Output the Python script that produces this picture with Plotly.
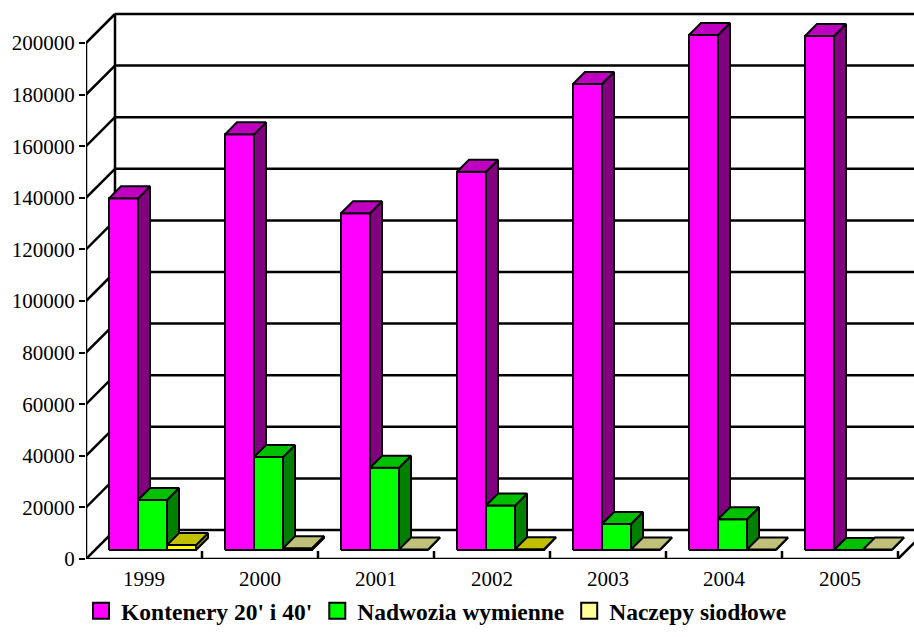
import plotly.graph_objects as go

# ---------------- data ----------------
years = ['1999', '2000', '2001', '2002', '2003', '2004', '2005']
kontenery = [136300, 161100, 130500, 146600, 180600, 199600, 199200]
nadwozia = [19400, 36000, 31900, 17200, 10100, 11900, 0]
naczepy = [1900, 700, 200, 300, 200, 200, 200]
series_names = ["Kontenery 20' i 40'", "Nadwozia wymienne", "Naczepy siodłowe"]
y_tick_values = [0, 20000, 40000, 60000, 80000, 100000, 120000, 140000, 160000, 180000, 200000]

# ---------------- styles ----------------
pink = ('#ff00ff', '#c000c0', '#800080')
green = ('#00ff00', '#00c000', '#008000')
yellow = ('#ffff00', '#c0c000', '#808000')
light = ('#ffff99', '#c0c07a', '#80805a')
series_colors = [
    [pink] * 7,
    [green] * 7,
    [yellow, light, light, yellow, light, light, light],
]
legend_colors = ['#ff00ff', '#00ff00', '#ffff99']
FONT = 'Times New Roman, Liberation Serif, serif'

W, H = 914, 637
ML, MR, MT, MB = 86, 0, 0, 78
PX_CAT = 116.0                 # px per category
PX_VAL = 516.0 / 200000.0      # px per unit value
plot_w = W - ML - MR
plot_h = H - MT - MB


def dx(px):
    return px / PX_CAT


def dy(px):
    return px / PX_VAL


DEPTH = 29       # wall depth in px
BAR_OFF = 9      # bar front depth offset in px
BAR_DEPTH = 12   # bar depth in px
BAR_W = 29       # bar width in px
BAR_START = 23   # offset of first bar in category in px

fig = go.Figure()

# ---------------- frame / walls ----------------
ncat = len(years)
lx, ly = [], []
for v in y_tick_values:
    lx += [dx(DEPTH), ncat + dx(DEPTH) + 1, None]
    ly += [v + dy(DEPTH), v + dy(DEPTH), None]
    lx += [0, dx(DEPTH), None]
    ly += [v, v + dy(DEPTH), None]
lx += [dx(DEPTH), dx(DEPTH), None]
ly += [dy(DEPTH), y_tick_values[-1] + dy(DEPTH), None]
lx += [0, 0, None]
ly += [0, y_tick_values[-1], None]
lx += [0, ncat, None]
ly += [0, 0, None]
lx += [ncat, ncat + dx(DEPTH), None]
ly += [0, dy(DEPTH), None]
for i in range(1, ncat + 1):
    lx += [i, i, None]
    ly += [0, dy(8), None]

fig.add_trace(go.Scatter(x=lx, y=ly, mode='lines',
                         line=dict(color='black', width=2.5),
                         hoverinfo='skip', showlegend=False, cliponaxis=False))

# ---------------- 3D bars ----------------
all_series = [kontenery, nadwozia, naczepy]
base = dy(BAR_OFF)
ddx, ddy = dx(BAR_DEPTH), dy(BAR_DEPTH)


def poly(xs, ys, color):
    fig.add_trace(go.Scatter(x=xs + [xs[0]], y=ys + [ys[0]], mode='lines',
                             fill='toself', fillcolor=color,
                             line=dict(color='black', width=2),
                             hoverinfo='skip', showlegend=False, cliponaxis=False))


for i in range(ncat):
    for j, s in enumerate(all_series):
        v = s[i]
        fc, tc, sc = series_colors[j][i]
        x0 = i + dx(BAR_START + BAR_W * j)
        x1 = x0 + dx(BAR_W)
        y0 = base
        y1 = base + v
        poly([x1, x1 + ddx, x1 + ddx, x1], [y0, y0 + ddy, y1 + ddy, y1], sc)
        if v > 0:
            poly([x0, x1, x1, x0], [y0, y0, y1, y1], fc)
        poly([x0, x1, x1 + ddx, x0 + ddx], [y1, y1, y1 + ddy, y1 + ddy], tc)

# ---------------- legend entries ----------------
for name, col in zip(series_names, legend_colors):
    fig.add_trace(go.Scatter(x=[None], y=[None], mode='markers', name=name,
                             marker=dict(symbol='square', size=16, color=col,
                                         line=dict(color='black', width=2))))

fig.update_layout(
    width=W, height=H,
    margin=dict(l=ML, r=MR, t=MT, b=MB, pad=0),
    paper_bgcolor='white', plot_bgcolor='white',
    font=dict(family=FONT, size=21, color='black'),
    xaxis=dict(range=[0, plot_w / PX_CAT], showgrid=False, zeroline=False,
               showline=False, tickmode='array',
               tickvals=[i + 0.5 for i in range(ncat)], ticktext=years,
               ticks='', ticklabelstandoff=5,
               tickfont=dict(family=FONT, size=21, color='black'),
               fixedrange=True),
    yaxis=dict(range=[0, plot_h / PX_VAL], showgrid=False, zeroline=False,
               showline=False, tickmode='array', tickvals=y_tick_values,
               ticktext=[str(v) for v in y_tick_values],
               ticks='outside', ticklen=6, tickwidth=2, tickcolor='black',
               tickfont=dict(family=FONT, size=21, color='black'),
               fixedrange=True),
    showlegend=True,
    legend=dict(orientation='h', x=-0.006, xanchor='left', y=-0.093, yanchor='middle',
                font=dict(family=FONT, size=23.5, weight='bold', color='black'),
                itemsizing='trace', itemwidth=30, tracegroupgap=0),
)

fig.write_html('out.html')
